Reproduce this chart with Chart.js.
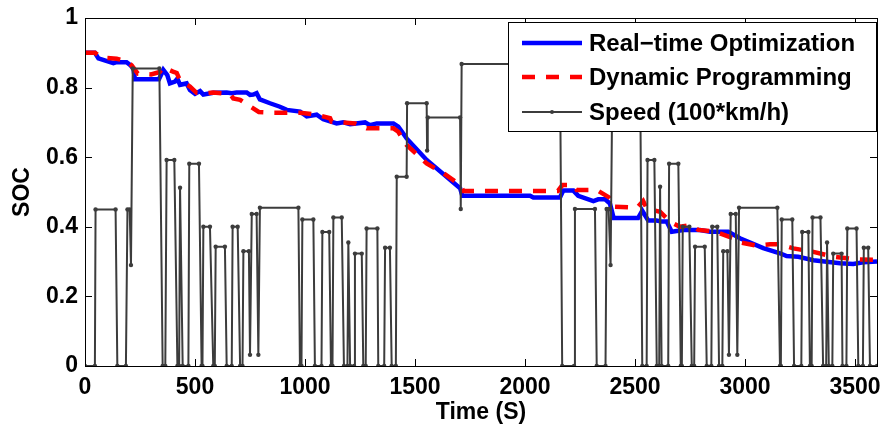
<!DOCTYPE html>
<html>
<head>
<meta charset="utf-8">
<script src="https://cdn.jsdelivr.net/npm/chart.js@4"></script>
<style>
  html, body { margin: 0; padding: 0; background: #fff; }
  #wrap { width: 883px; height: 435px; }
</style>
</head>
<body>
<div id="wrap"><canvas id="myChart" width="883" height="435"></canvas></div>
<script>
// tick positions
const xTicks = [0, 500, 1000, 1500, 2000, 2500, 3000, 3500];
const yTicks = [0, 0.2, 0.4, 0.6, 0.8, 1];

// Real-time optimization SOC
const rtTime = [0, 45, 61, 100, 129, 144, 189, 205, 220, 227, 336, 348, 356, 374, 386, 409, 420, 432, 462, 477,
  500, 523, 538, 583, 644, 667, 689, 735, 750, 765, 780, 795, 841, 886, 917, 978, 1008, 1053, 1083, 1144,
  1174, 1205, 1273, 1295, 1326, 1402, 1424, 1462, 1553, 1705, 1715, 2023, 2038, 2159, 2174, 2220, 2242, 2311, 2333, 2364,
  2386, 2403, 2514, 2533, 2560, 2598, 2621, 2644, 2667, 2720, 2795, 2841, 2924, 2977, 3083, 3159, 3189, 3242, 3311, 3432,
  3492, 3538, 3600];
const rtSoc = [0.900, 0.900, 0.884, 0.876, 0.870, 0.873, 0.873, 0.865, 0.855, 0.824, 0.824, 0.840, 0.851, 0.836, 0.812, 0.817, 0.826, 0.808, 0.812, 0.793,
  0.782, 0.790, 0.780, 0.785, 0.786, 0.784, 0.786, 0.786, 0.779, 0.780, 0.784, 0.766, 0.755, 0.745, 0.736, 0.731, 0.717, 0.722, 0.709, 0.697,
  0.700, 0.695, 0.700, 0.692, 0.697, 0.697, 0.688, 0.654, 0.592, 0.511, 0.489, 0.489, 0.484, 0.484, 0.504, 0.504, 0.489, 0.474, 0.479, 0.479,
  0.467, 0.425, 0.425, 0.446, 0.418, 0.418, 0.415, 0.415, 0.386, 0.391, 0.391, 0.386, 0.386, 0.367, 0.339, 0.324, 0.316, 0.314, 0.304, 0.295,
  0.293, 0.298, 0.300];

// Dynamic programming SOC
const dpTime = [0, 45, 75, 144, 189, 212, 240, 300, 340, 356, 400, 417, 432, 477, 507, 553, 583, 659, 674, 705,
  750, 790, 856, 977, 1053, 1114, 1121, 1227, 1280, 1402, 1424, 1462, 1553, 1629, 1705, 1720, 2150, 2170, 2220, 2235,
  2295, 2326, 2386, 2400, 2510, 2537, 2553, 2614, 2659, 2705, 2750, 2788, 2864, 2947, 2980, 3053, 3114, 3152, 3220, 3311,
  3402, 3508, 3600];
const dpSoc = [0.900, 0.900, 0.886, 0.883, 0.876, 0.864, 0.840, 0.838, 0.845, 0.858, 0.846, 0.842, 0.820, 0.803, 0.785, 0.784, 0.786, 0.782, 0.769, 0.765,
  0.746, 0.730, 0.728, 0.728, 0.722, 0.712, 0.702, 0.697, 0.683, 0.683, 0.673, 0.635, 0.582, 0.554, 0.520, 0.503, 0.503, 0.520, 0.520, 0.506,
  0.506, 0.506, 0.483, 0.458, 0.455, 0.474, 0.453, 0.443, 0.415, 0.400, 0.405, 0.391, 0.386, 0.367, 0.355, 0.346, 0.350, 0.350, 0.338, 0.328,
  0.314, 0.306, 0.305];

// Speed (100*km/h)
const speedTime = [0, 45, 48, 139, 147, 186, 193, 203, 209, 217, 338, 353, 365, 371, 406, 420, 428, 432, 444, 470,
  474, 518, 530, 534, 538, 568, 583, 590, 594, 636, 644, 667, 671, 694, 705, 716, 720, 745, 750, 758,
  780, 788, 795, 970, 977, 984, 988, 1038, 1045, 1075, 1079, 1110, 1118, 1125, 1129, 1167, 1177, 1193, 1197, 1205,
  1223, 1227, 1258, 1265, 1276, 1280, 1329, 1333, 1360, 1364, 1386, 1394, 1413, 1417, 1462, 1464, 1553, 1555, 1558, 1705,
  1708, 1712, 2159, 2169, 2223, 2227, 2318, 2326, 2366, 2371, 2380, 2389, 2398, 2523, 2533, 2553, 2557, 2588, 2599, 2610,
  2614, 2621, 2651, 2655, 2697, 2708, 2713, 2717, 2747, 2758, 2769, 2773, 2817, 2826, 2847, 2851, 2874, 2882, 2897, 2901,
  2920, 2927, 2935, 2958, 2965, 2973, 3147, 3159, 3163, 3167, 3215, 3223, 3256, 3260, 3288, 3295, 3303, 3307, 3343, 3355,
  3369, 3373, 3381, 3397, 3401, 3439, 3443, 3461, 3465, 3507, 3515, 3536, 3540, 3560, 3568, 3600];
const speedValue = [0, 0, 0.45, 0.45, 0, 0, 0.45, 0.45, 0.29, 0.855, 0.855, 0, 0, 0.592, 0.592, 0, 0, 0.512, 0, 0,
  0.581, 0.581, 0, 0, 0.40, 0.40, 0, 0, 0.343, 0.343, 0, 0, 0.40, 0.40, 0, 0, 0.33, 0.33, 0.032, 0.437,
  0.437, 0.032, 0.455, 0.455, 0, 0, 0.421, 0.421, 0, 0, 0.385, 0.385, 0, 0, 0.427, 0.427, 0, 0, 0.355, 0,
  0, 0.323, 0.323, 0, 0, 0.395, 0.395, 0, 0, 0.34, 0.34, 0, 0, 0.544, 0.544, 0.755, 0.755, 0.619, 0.714, 0.714,
  0.451, 0.868, 0.868, 0, 0, 0.451, 0.451, 0, 0, 0.451, 0.451, 0.29, 0.87, 0.87, 0, 0, 0.592, 0.592, 0, 0,
  0.515, 0, 0, 0.581, 0.581, 0, 0, 0.40, 0.40, 0, 0, 0.343, 0.343, 0, 0, 0.40, 0.40, 0, 0, 0.33,
  0.33, 0.032, 0.437, 0.437, 0.032, 0.455, 0.455, 0, 0, 0.421, 0.421, 0, 0, 0.385, 0.385, 0, 0, 0.427, 0.427, 0,
  0, 0.355, 0, 0, 0.323, 0.323, 0, 0, 0.395, 0.395, 0, 0, 0.34, 0.34, 0, 0];

const seriesNames = ['Real\u2212time Optimization', 'Dynamic Programming', 'Speed (100*km/h)'];

const FONT = '"Liberation Sans", Arial, Helvetica, sans-serif';

function pts(xs, ys) {
  return xs.map((x, i) => ({ x: x, y: ys[i] }));
}

// frame, inward ticks and the boxed legend, matlab style
const matlabAxes = {
  id: 'matlabAxes',
  afterDraw(chart) {
    const ctx = chart.ctx;
    const a = chart.chartArea;
    const xs = chart.scales.x, ys = chart.scales.y;
    const tl = 7;
    ctx.save();
    ctx.strokeStyle = '#000';
    ctx.lineWidth = 1;
    ctx.beginPath();
    xTicks.forEach(v => {
      const px = Math.round(xs.getPixelForValue(v)) + 0.5;
      ctx.moveTo(px, a.bottom); ctx.lineTo(px, a.bottom - tl);
      ctx.moveTo(px, a.top); ctx.lineTo(px, a.top + tl);
    });
    yTicks.forEach(v => {
      const py = Math.round(ys.getPixelForValue(v)) + 0.5;
      ctx.moveTo(a.left, py); ctx.lineTo(a.left + tl, py);
      ctx.moveTo(a.right, py); ctx.lineTo(a.right - tl, py);
    });
    ctx.stroke();
    ctx.strokeRect(Math.round(a.left) + 0.5, Math.round(a.top) + 0.5,
      Math.round(a.right - a.left), Math.round(a.bottom - a.top));

    // legend box
    const bw = 368, bh = 109;
    const bx = Math.round(a.right) - 1 - bw, by = Math.round(a.top) + 4;
    ctx.fillStyle = '#fff';
    ctx.fillRect(bx, by, bw, bh);
    ctx.strokeRect(bx + 0.5, by + 0.5, bw, bh);
    const rowY = [by + 21, by + 55, by + 90];
    const styles = chart.data.datasets;
    ctx.font = 'bold 24px ' + FONT;
    ctx.textBaseline = 'middle';
    ctx.textAlign = 'left';
    styles.forEach((ds, i) => {
      ctx.save();
      ctx.strokeStyle = ds.borderColor;
      ctx.lineWidth = ds.borderWidth;
      ctx.setLineDash(ds.borderDash || []);
      ctx.beginPath();
      ctx.moveTo(bx + 14, rowY[i]);
      ctx.lineTo(bx + 74, rowY[i]);
      ctx.stroke();
      ctx.restore();
      if (ds.pointRadius) {
        ctx.fillStyle = ds.borderColor;
        ctx.beginPath();
        ctx.arc(bx + 44, rowY[i], 2, 0, Math.PI * 2);
        ctx.fill();
      }
      ctx.fillStyle = '#000';
      ctx.fillText(ds.label, bx + 81, rowY[i] + 1);
    });
    ctx.restore();
  }
};

const ctx = document.getElementById('myChart').getContext('2d');
const myChart = new Chart(ctx, {
  type: 'line',
  data: {
    datasets: [{
      label: seriesNames[0],
      data: pts(rtTime, rtSoc),
      borderColor: '#0000ff',
      borderWidth: 4.5,
      pointRadius: 0,
      order: 2
    }, {
      label: seriesNames[1],
      data: pts(dpTime, dpSoc),
      borderColor: '#ff0000',
      borderWidth: 4.5,
      borderDash: [13, 11],
      pointRadius: 0,
      order: 1
    }, {
      label: seriesNames[2],
      data: pts(speedTime, speedValue),
      borderColor: '#3c3c3c',
      backgroundColor: '#3c3c3c',
      borderWidth: 2,
      pointRadius: 2.2,
      pointBorderWidth: 0,
      order: 0
    }]
  },
  options: {
    responsive: false,
    animation: false,
    layout: { padding: { top: 18, right: 6, left: 0, bottom: 0 } },
    plugins: {
      legend: { display: false },
      tooltip: { enabled: false }
    },
    scales: {
      x: {
        type: 'linear',
        min: 0,
        max: 3600,
        afterBuildTicks: s => { s.ticks = xTicks.map(v => ({ value: v })); },
        afterFit: s => { s.height = 69; s.paddingLeft = 0; s.paddingRight = 0; },
        grid: { display: false, drawTicks: false },
        border: { display: false },
        ticks: {
          color: '#000',
          padding: 8,
          maxRotation: 0,
          autoSkip: false,
          font: { family: FONT, size: 23, weight: 'bold' },
          callback: v => String(v)
        },
        title: {
          display: true,
          text: 'Time (S)',
          color: '#000',
          padding: { top: 0, bottom: 9 },
          font: { family: FONT, size: 23, weight: 'bold' }
        }
      },
      y: {
        min: 0,
        max: 1,
        afterBuildTicks: s => { s.ticks = yTicks.map(v => ({ value: v })); },
        afterFit: s => { s.width = 85; s.paddingTop = 0; s.paddingBottom = 0; },
        grid: { display: false, drawTicks: false },
        border: { display: false },
        ticks: {
          color: '#000',
          padding: 7,
          autoSkip: false,
          font: { family: FONT, size: 23, weight: 'bold' },
          callback: v => String(v)
        },
        title: {
          display: true,
          text: 'SOC',
          color: '#000',
          padding: { top: 9, bottom: 0 },
          font: { family: FONT, size: 23, weight: 'bold' }
        }
      }
    }
  },
  plugins: [matlabAxes]
});
</script>
</body>
</html>
